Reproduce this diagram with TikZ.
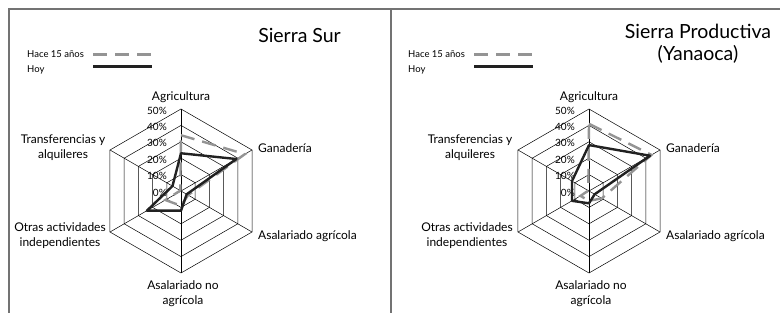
\documentclass[tikz,border=0pt]{standalone}
\usepackage{fontspec}
\setmainfont{Lato}
\newcommand\myradargrid{%
  \foreach \k in {1,...,5}{%
    \draw[gridline] (90:{16.4*\k}) -- (30:{16.4*\k}) -- (-30:{16.4*\k}) -- (-90:{16.4*\k}) -- (-150:{16.4*\k}) -- (150:{16.4*\k}) -- cycle;}
  \foreach \a in {90,30,-30,-90,-150,150}{\draw[gridline] (0,0) -- (\a:82);}
  \foreach \k/\t in {0/0,1/10,2/20,3/30,4/40,5/50}{%
    \node[pct] at (-14,{16.4*\k-1.5}) {\t\%};}
}
\newcommand\mypoly[7]{%
  \draw[#1] (90:{#2*1.64}) -- (30:{#3*1.64}) -- (-30:{#4*1.64}) -- (-90:{#5*1.64}) -- (-150:{#6*1.64}) -- (150:{#7*1.64}) -- cycle;}
\begin{document}
\begin{tikzpicture}[x=1pt,y=1pt,
  frame/.style={draw=black!55, line width=1.2pt},
  gridline/.style={draw=black, line width=0.5pt},
  hoy/.style={draw=black!87, line width=2.4pt, line join=round},
  hace/.style={draw=black!42, line width=2.4pt, dash pattern=on 14pt off 8pt},
  lbl/.style={font=\fontsize{12}{15}\selectfont, align=center, inner sep=0pt, text=black},
  pct/.style={font=\fontsize{10}{11}\selectfont, anchor=east, inner sep=0pt, text=black},
  ttl/.style={font=\fontsize{19.5}{22}\selectfont, align=center, inner sep=0pt, text=black},
  leg/.style={font=\fontsize{9.5}{11}\selectfont, anchor=west, inner sep=0pt, text=black}]
\useasboundingbox (0,0) rectangle (780,-323);
\fill[white] (0,0) rectangle (780,-323);
% frames
\draw[frame] (9,-313) -- (9,-9) -- (780,-9);
\draw[frame] (391,-9) -- (391,-313);
% ---------- left panel ----------
\node[ttl, anchor=east] (tL) at (341,-35) {Sierra Sur};
\node[leg] (hL) at (27,-54) {Hace 15 años};
\node[leg] (yL) at (27,-69.5) {Hoy};
\draw[hace, line width=3pt] (93,-54.3) -- (152,-54.3);
\draw[hoy, line width=3pt] (93,-66.8) -- (152,-66.8);
\begin{scope}[shift={(181,-191)}]
  \myradargrid
  \mypoly{hace}{34}{45}{5}{9}{11}{0.5}
  \mypoly{hoy}{23}{39}{4}{12}{24}{6}
\end{scope}
\node[lbl] (aL) at (181,-97) {Agricultura};
\node[lbl, anchor=west] (gL) at (258,-148) {Ganadería};
\node[lbl, anchor=west] (saL) at (258,-236) {Asalariado agrícola};
\node[lbl] (snL) at (183,-294) {Asalariado no\\agrícola};
\node[lbl] (oL) at (60,-236) {Otras actividades\\independientes};
\node[lbl] (trL) at (63,-148) {Transferencias y\\alquileres};
% ---------- right panel ----------
\node[ttl] (tR) at (698,-44) {Sierra Productiva\\(Yanaoca)};
\node[leg] (hR) at (408,-54) {Hace 15 años};
\node[leg] (yR) at (408,-69.5) {Hoy};
\draw[hace, line width=3pt] (474,-54.3) -- (533,-54.3);
\draw[hoy, line width=3pt] (474,-66.8) -- (533,-66.8);
\begin{scope}[shift={(589,-191)}]
  \myradargrid
  \mypoly{hace}{41}{44}{9}{6}{6}{0.5}
  \mypoly{hoy}{28}{43}{4}{7.5}{12}{12}
\end{scope}
\node[lbl] (aR) at (589,-97) {Agricultura};
\node[lbl, anchor=west] (gR) at (666,-148) {Ganadería};
\node[lbl, anchor=west] (saR) at (666,-236) {Asalariado agrícola};
\node[lbl] (snR) at (591,-294) {Asalariado no\\agrícola};
\node[lbl] (oR) at (467,-236) {Otras actividades\\independientes};
\node[lbl] (trR) at (470,-148) {Transferencias y\\alquileres};
\end{tikzpicture}
\end{document}
